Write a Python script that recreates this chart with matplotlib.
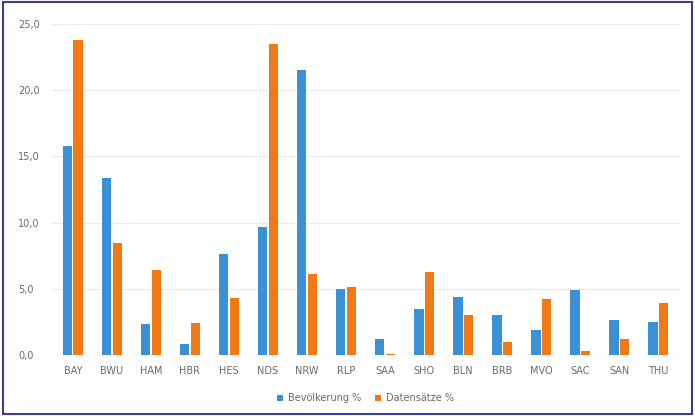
import numpy as np
import matplotlib.pyplot as plt
from matplotlib.patches import Rectangle
from matplotlib.ticker import FuncFormatter

laender = ['BAY', 'BWU', 'HAM', 'HBR', 'HES', 'NDS', 'NRW', 'RLP',
           'SAA', 'SHO', 'BLN', 'BRB', 'MVO', 'SAC', 'SAN', 'THU']
bevoelkerung = [15.8, 13.4, 2.3, 0.8, 7.6, 9.7, 21.5, 5.0,
                1.2, 3.5, 4.4, 3.0, 1.9, 4.9, 2.6, 2.5]
datensaetze = [23.8, 8.45, 6.4, 2.4, 4.3, 23.5, 6.1, 5.1,
               0.1, 6.3, 3.0, 1.0, 4.2, 0.3, 1.2, 3.9]

blau = '#3a91d6'
orange = '#f27a14'
grau = '#6b6b6b'

fig = plt.figure(figsize=(6.95, 4.16), dpi=100)
ax = fig.add_axes([0.074, 0.147, 0.904, 0.795])

x = np.arange(len(laender))
w = 0.24
ax.bar(x - w / 2 - 0.015, bevoelkerung, w, color=blau, label='Bevölkerung %')
ax.bar(x + w / 2 + 0.015, datensaetze, w, color=orange, label='Datensätze %')

ax.set_xlim(-0.55, len(laender) - 0.45)
ax.set_ylim(0, 25)
ax.set_yticks(np.arange(0, 26, 5))
ax.yaxis.set_major_formatter(FuncFormatter(lambda v, p: f'{v:.1f}'.replace('.', ',')))
ax.set_xticks(x)
ax.set_xticklabels(laender)
ax.tick_params(axis='both', length=0, labelsize=7, colors=grau)
ax.tick_params(axis='x', pad=8)
ax.tick_params(axis='y', pad=24)
for lbl in ax.get_yticklabels():
    lbl.set_horizontalalignment('left')
ax.grid(axis='y', color='#ececec', linewidth=0.9)
ax.set_axisbelow(True)
for s in ax.spines.values():
    s.set_visible(False)
ax.axhline(0, color='#e0e0e0', linewidth=0.8, zorder=0)

ax.legend(loc='upper center', bbox_to_anchor=(0.5, -0.09), ncol=2, frameon=False,
          fontsize=7, labelcolor=grau, handlelength=0.6, handleheight=0.6,
          columnspacing=1.5, handletextpad=0.5)

# blauer Rahmen
fig.patches.append(Rectangle((0.004, 0.006), 0.992, 0.99, transform=fig.transFigure,
                             fill=False, edgecolor='#3b3f8f', linewidth=1.5))

fig.savefig('out.png', dpi=100)
